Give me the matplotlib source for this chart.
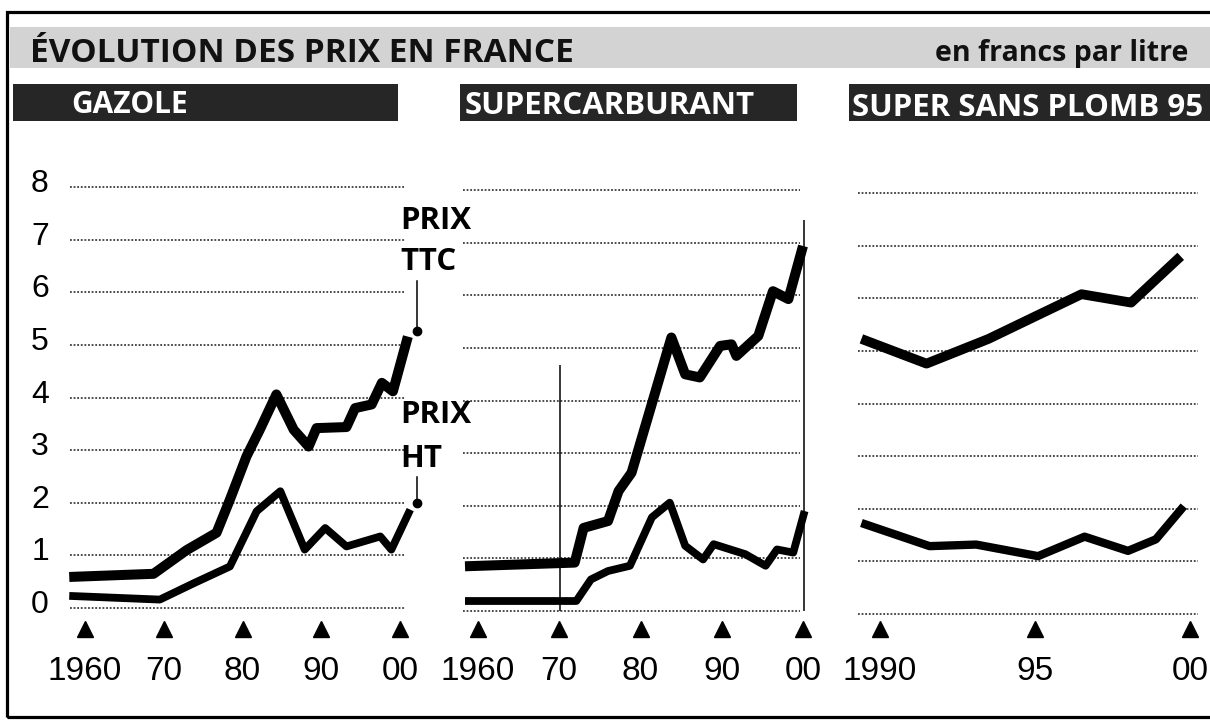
import matplotlib
matplotlib.use("Agg")
import matplotlib.pyplot as plt
import matplotlib.transforms as mtransforms
from matplotlib.patches import Rectangle
from matplotlib import font_manager

# prices, francs per litre (TTC = with taxes, HT = before taxes)
gazole_ttc_years = [1958, 1968.7, 1972.9, 1976.7, 1978.4, 1980.5, 1982.2, 1984.3, 1986.5,
                    1988.4, 1989.4, 1993.2, 1994.3, 1996.4, 1997.7, 1999.1, 2001]
gazole_ttc = [0.59, 0.65, 1.10, 1.43, 2.06, 2.88, 3.39, 4.06, 3.39,
              3.07, 3.42, 3.44, 3.80, 3.87, 4.28, 4.12, 5.16]
gazole_ht_years = [1958, 1969.5, 1973.8, 1978.4, 1981.8, 1984.8, 1987.9, 1990.5,
                   1993.2, 1997.5, 1998.9, 2001.3]
gazole_ht = [0.23, 0.16, 0.47, 0.79, 1.84, 2.22, 1.11, 1.52, 1.17, 1.36, 1.11, 1.87]

super_ttc_years = [1958.4, 1971.9, 1973, 1976, 1977.3, 1978.9, 1983.8, 1985.5, 1987.3,
                   1989.8, 1991.2, 1991.8, 1994.5, 1996.3, 1998.2, 2000]
super_ttc = [0.85, 0.92, 1.58, 1.71, 2.28, 2.63, 5.20, 4.50, 4.44,
             5.04, 5.07, 4.85, 5.23, 6.08, 5.93, 6.94]
super_ht_years = [1958.4, 1972.1, 1973.9, 1976, 1978.7, 1981.4, 1983.6, 1985.5, 1987.7,
                  1989, 1992.9, 1995.4, 1996.8, 1998.8, 2000.2]
super_ht = [0.19, 0.19, 0.60, 0.76, 0.86, 1.78, 2.06, 1.24, 0.98,
            1.27, 1.08, 0.86, 1.17, 1.11, 1.90]

ssp_ttc_years = [1989.4, 1991.5, 1993.5, 1995.05, 1996.5, 1998.1, 1999.7]
ssp_ttc = [5.23, 4.76, 5.23, 5.67, 6.08, 5.92, 6.80]
ssp_ht_years = [1989.4, 1991.6, 1993.1, 1995.1, 1996.6, 1998, 1998.9, 1999.8]
ssp_ht = [1.73, 1.29, 1.32, 1.10, 1.47, 1.20, 1.42, 2.05]

decade_ticks = [1960, 1970, 1980, 1990, 2000]
decade_labels = ["1960", "70", "80", "90", "00"]
ssp_ticks = [1990, 1995, 2000]
ssp_labels = ["1990", "95", "00"]
y_values = list(range(9))

# marker dots of the "PRIX TTC" / "PRIX HT" callouts (gazole, end of 2000)
callout_year = 2002.2
callout_ttc = 5.27
callout_ht = 2.0

installed = {f.name for f in font_manager.fontManager.ttflist}
NUM_FONT = "Liberation Sans Narrow" if "Liberation Sans Narrow" in installed else "Liberation Sans"
HEAD_FONT = "Open Sans" if "Open Sans" in installed else "DejaVu Sans"

W, H = 1210, 722
UPP = 52.6          # pixels per franc
TOP, BOT = 150, 640  # vertical pixel extent of the panels


def fx(px):
    return px / W


def fy(py):
    return 1 - py / H


fig = plt.figure(figsize=(W / 100, H / 100), dpi=100)
fig.patch.set_facecolor("white")

# outer frame and title band
fig.add_artist(Rectangle((fx(6.5), fy(717)), 1.1, (717 - 11.5) / H, transform=fig.transFigure,
                         fill=False, ec="black", lw=2.3))
fig.add_artist(Rectangle((fx(10), fy(68)), 1.0, 41 / H, transform=fig.transFigure,
                         color="#d3d3d3", lw=0))
fig.text(fx(30), fy(62), "ÉVOLUTION DES PRIX EN FRANCE", ha="left", va="baseline",
         fontsize=24, fontweight="bold", family=HEAD_FONT, color="#111111")
fig.text(fx(1188), fy(61), "en francs par litre", ha="right", va="baseline",
         fontsize=20.5, fontweight="bold", family=HEAD_FONT, color="#111111")

panels = [
    dict(name="GAZOLE", box=(13, 398), text_x=71, base=113, size=21.5, ref_year=1960,
         ref_px=85, ppy=7.875, zero=608, grid=(70, 405), ticks=decade_ticks,
         labels=decade_labels,
         series=[(gazole_ttc_years, gazole_ttc, 7.2), (gazole_ht_years, gazole_ht, 5.6)]),
    dict(name="SUPERCARBURANT", box=(460, 797), text_x=465, base=114, size=22.5,
         ref_year=1960, ref_px=478, ppy=8.125, zero=611, grid=(463, 800), ticks=decade_ticks,
         labels=decade_labels,
         series=[(super_ttc_years, super_ttc, 7.2), (super_ht_years, super_ht, 5.6)]),
    dict(name="SUPER SANS PLOMB 95", box=(849, 1215), text_x=852, base=116, size=22.5,
         ref_year=1990, ref_px=880, ppy=31.0, zero=614, grid=(858, 1198), ticks=ssp_ticks,
         labels=ssp_labels,
         series=[(ssp_ttc_years, ssp_ttc, 7.0), (ssp_ht_years, ssp_ht, 6.0)]),
]

axes = []
for p in panels:
    gl, gr = p["grid"]
    x0 = p["ref_year"] + (gl - p["ref_px"]) / p["ppy"]
    x1 = p["ref_year"] + (gr - p["ref_px"]) / p["ppy"]
    ax = fig.add_axes([fx(gl), fy(BOT), (gr - gl) / W, (BOT - TOP) / H])
    ax.set_xlim(x0, x1)
    ax.set_ylim((p["zero"] - BOT) / UPP, (p["zero"] - TOP) / UPP)
    ax.axis("off")
    axes.append(ax)

    for v in y_values:
        ax.axhline(v, color="#3c3c3c", lw=1.3, ls=(0, (1, 1)))

    for yrs, vals, lw in p["series"]:
        ax.plot(yrs, vals, color="black", lw=lw, clip_on=False,
                solid_joinstyle="round", solid_capstyle="butt", zorder=3)

    trans = mtransforms.blended_transform_factory(ax.transData, fig.transFigure)
    ax.plot(p["ticks"], [fy(629)] * len(p["ticks"]), transform=trans, marker="^", ms=12,
            ls="none", color="black", clip_on=False)
    for t, lab in zip(p["ticks"], p["labels"]):
        ax.text(t, fy(680), lab, transform=trans, ha="center", va="baseline",
                fontsize=24, family=NUM_FONT, color="black")

    b0, b1 = p["box"]
    fig.add_artist(Rectangle((fx(b0), fy(121)), (b1 - b0) / W, 37 / H,
                             transform=fig.transFigure, color="#262626", lw=0))
    fig.text(fx(p["text_x"]), fy(p["base"]), p["name"], ha="left", va="baseline",
             fontsize=p["size"], fontweight="bold", family=HEAD_FONT, color="white")

# y tick labels, only on the first panel
for v in y_values:
    fig.text(fx(40), fy(panels[0]["zero"] - v * UPP + 5), str(v), ha="center",
             va="baseline", fontsize=23, family=NUM_FONT, color="black")

# vertical marker lines in the supercarburant panel
axes[1].vlines(1970.1, 0, 4.68, color="black", lw=1.1)
axes[1].vlines(2000.1, 0, 7.43, color="black", lw=1.1, clip_on=False)

# PRIX TTC / PRIX HT callouts
ax = axes[0]
ax.plot([callout_year, callout_year], [callout_ttc + 0.95, callout_ttc], color="black",
        lw=1.1, clip_on=False)
ax.plot([callout_year, callout_year], [callout_ht + 0.5, callout_ht], color="black",
        lw=1.1, clip_on=False)
ax.plot([callout_year, callout_year], [callout_ttc, callout_ht], ls="none", marker="o",
        ms=6, color="black", clip_on=False)
for txt, base in [("PRIX", 229), ("TTC", 270), ("PRIX", 423), ("HT", 467)]:
    fig.text(fx(400), fy(base), txt, ha="left", va="baseline", fontsize=22.5,
             fontweight="bold", family=HEAD_FONT, color="black")

fig.savefig("out.png", dpi=100)
